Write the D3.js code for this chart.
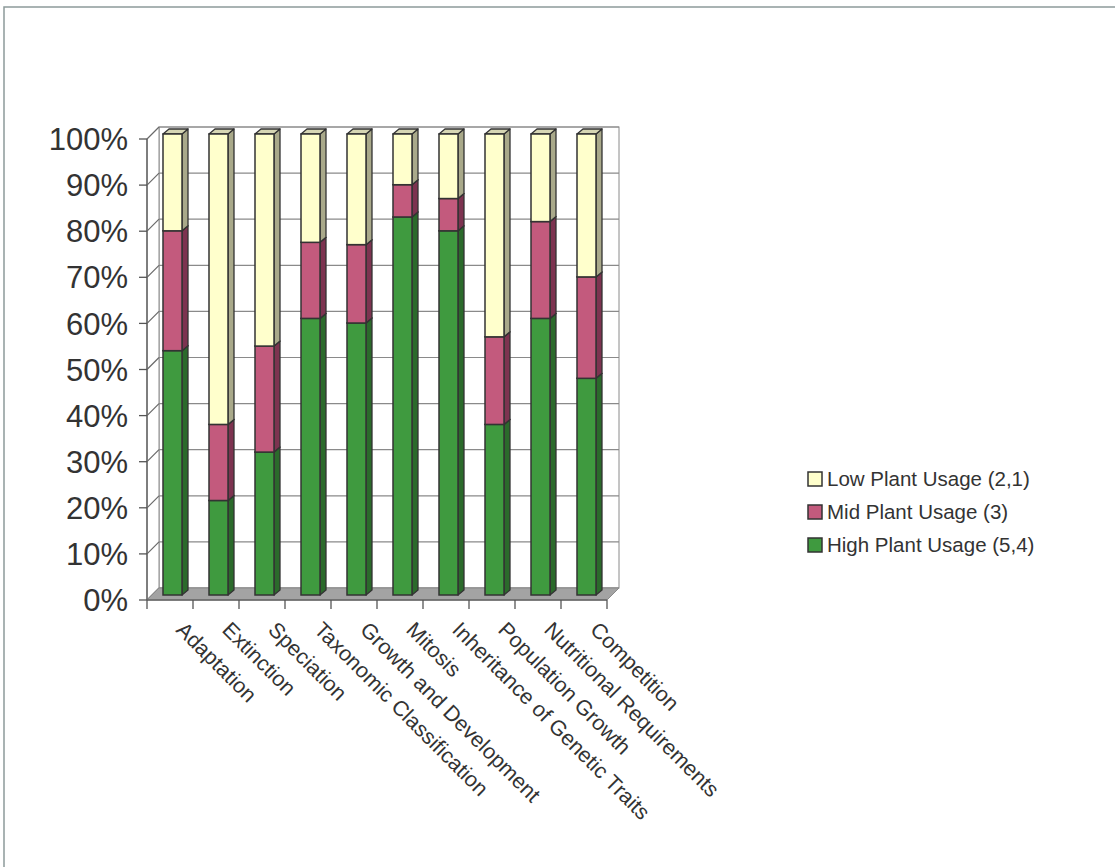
<!DOCTYPE html>
<html><head><meta charset="utf-8">
<script src="https://cdn.jsdelivr.net/npm/d3@7"></script>
<style>body{margin:0;background:#fff;}svg{display:block;}text{font-family:Arial,"Liberation Sans",sans-serif;fill:#333;}</style>
</head><body>
<svg id="c" width="1115" height="867"></svg>
<script>
const categories = ["Adaptation","Extinction","Speciation","Taxonomic Classification","Growth and Development","Mitosis","Inheritance of Genetic Traits","Population Growth","Nutritional Requirements","Competition"];
const highUsage = [53, 20.5, 31, 60, 59, 82, 79, 37, 60, 47];
const midUsage  = [26, 16.5, 23, 16.5, 17, 7, 7, 19, 21, 22];
const lowUsage  = [21, 63, 46, 23.5, 24, 11, 14, 44, 19, 31];
const seriesNames = ["High Plant Usage (5,4)","Mid Plant Usage (3)","Low Plant Usage (2,1)"];
const yTicks = [0,10,20,30,40,50,60,70,80,90,100];

const svg = d3.select("#c");
// frame
svg.append("path").attr("d","M4,867 L4,7 L1115,7").attr("fill","none").attr("stroke","#8d9b9b").attr("stroke-width",1.5);

const x = d3.scaleBand().domain(categories).range([147,607]).padding(0);
const y = d3.scaleLinear().domain([0,100]).range([600,139]);
const DX=12, DY=12; // depth of plot box
const g = svg.append("g");

// back wall
g.append("rect").attr("x",147+DX).attr("y",y(100)-DY).attr("width",460).attr("height",y(0)-y(100)).attr("fill","#fff").attr("stroke","#8a8a8a").attr("stroke-width",1);
// left wall
g.append("path").attr("d",`M147,${y(0)} L${147+DX},${y(0)-DY} L${147+DX},${y(100)-DY} L147,${y(100)} Z`).attr("fill","#fff").attr("stroke","#8a8a8a").attr("stroke-width",1);
// gridlines
yTicks.forEach(t=>{
  g.append("line").attr("x1",147+DX).attr("x2",607+DX).attr("y1",y(t)-DY).attr("y2",y(t)-DY).attr("stroke","#8a8a8a").attr("stroke-width",1.2);
  g.append("line").attr("x1",147).attr("x2",147+DX).attr("y1",y(t)).attr("y2",y(t)-DY).attr("stroke","#6a6a6a").attr("stroke-width",1.2);
});
// floor
g.append("path").attr("d",`M147,${y(0)} L607,${y(0)} L${607+DX},${y(0)-DY} L${147+DX},${y(0)-DY} Z`).attr("fill","#a3a3a3").attr("stroke","#8a8a8a");

// axes
g.append("line").attr("x1",147).attr("x2",147).attr("y1",y(100)).attr("y2",y(0)).attr("stroke","#666").attr("stroke-width",1.5);
g.append("line").attr("x1",147).attr("x2",607).attr("y1",y(0)).attr("y2",y(0)).attr("stroke","#666").attr("stroke-width",1.5);
yTicks.forEach(t=>{
  g.append("line").attr("x1",139).attr("x2",147).attr("y1",y(t)).attr("y2",y(t)).attr("stroke","#555").attr("stroke-width",1.3);
  g.append("text").attr("x",128).attr("y",y(t)).attr("dy","0.36em").attr("text-anchor","end").attr("font-size",31).text(t+"%");
});
categories.concat(["_end"]).forEach((c,i)=>{
  const xx = 147 + i*x.bandwidth();
  g.append("line").attr("x1",xx).attr("x2",xx).attr("y1",y(0)).attr("y2",y(0)+9).attr("stroke","#555").attr("stroke-width",1.3);
});
categories.forEach(c=>{
  const cx = x(c)+x.bandwidth()/2 + 5;
  g.append("text").attr("transform",`translate(${cx},631) rotate(45)`).attr("font-size",21.5).text(c);
});

// bars
const colors = [
  {front:"#3f9a3f", side:"#2b6a2b", top:"#5aa85a"},
  {front:"#c35a7d", side:"#7d3350", top:"#d58aa2"},
  {front:"#ffffcc", side:"#a9a98a", top:"#d6d6b4"}
];
const stacks = [highUsage, midUsage, lowUsage];
const bo=5, bw=19, bdx=6, bdy=5;
categories.forEach((c,i)=>{
  let base=0;
  stacks.forEach((s,k)=>{
    const v=s[i];
    const x0 = x(c)+11+bo;
    const yb = y(base)-bo, yt = y(base+v)-bo;
    const col = colors[k];
    g.append("path").attr("d",`M${x0+bw},${yb} L${x0+bw+bdx},${yb-bdy} L${x0+bw+bdx},${yt-bdy} L${x0+bw},${yt} Z`).attr("fill",col.side).attr("stroke","#333").attr("stroke-width",1.3).attr("stroke-linejoin","round");
    g.append("path").attr("d",`M${x0},${yt} L${x0+bdx},${yt-bdy} L${x0+bw+bdx},${yt-bdy} L${x0+bw},${yt} Z`).attr("fill",col.top).attr("stroke","#333").attr("stroke-width",1.3).attr("stroke-linejoin","round");
    g.append("rect").attr("x",x0).attr("y",yt).attr("width",bw).attr("height",yb-yt).attr("fill",col.front).attr("stroke","#333").attr("stroke-width",1.5);
    base+=v;
  });
});

// legend
const legendOrder = [2,1,0];
legendOrder.forEach((k,j)=>{
  const ly = 479 + j*33;
  svg.append("rect").attr("x",808).attr("y",ly-7).attr("width",14).attr("height",14).attr("fill",colors[k].front).attr("stroke","#333").attr("stroke-width",1.5);
  svg.append("text").attr("x",827).attr("y",ly).attr("dy","0.36em").attr("font-size",20.5).text(seriesNames[k]);
});
</script>
</body></html>
